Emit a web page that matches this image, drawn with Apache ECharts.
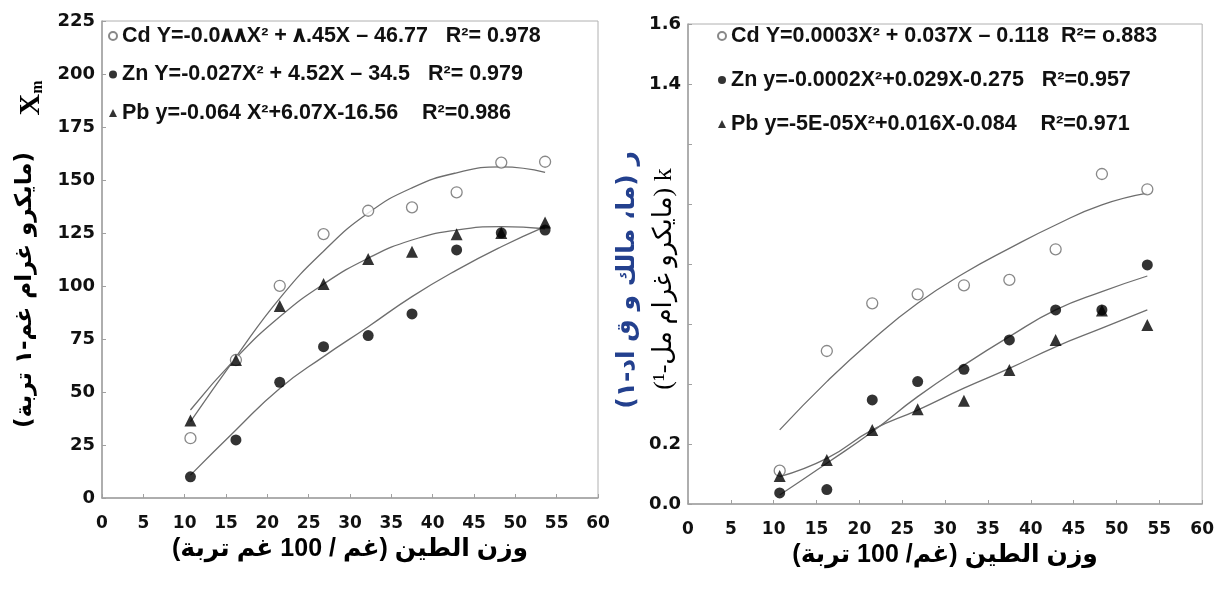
<!DOCTYPE html>
<html>
<head>
<meta charset="utf-8">
<script src="https://cdn.jsdelivr.net/npm/echarts@6/dist/echarts.min.js"></script>
<style>
html, body { margin: 0; background: #fff; }
#chart { width: 1217px; height: 590px; }
</style>
</head>
<body>
<div id="chart"></div>
<script>
// clay content (g / 100 g soil), shared by both panels
var clay = [10.7, 16.2, 21.5, 26.8, 32.2, 37.5, 42.9, 48.3, 53.6];
var xTicks = [0, 5, 10, 15, 20, 25, 30, 35, 40, 45, 50, 55, 60];

// left panel: Xm
var xmCd = [28.2, 65.1, 100.1, 124.5, 135.5, 137.1, 144.2, 158.2, 158.6];
var xmZn = [10.0, 27.4, 54.6, 71.4, 76.6, 86.8, 117.0, 125.1, 126.4];
var xmPb = [36.5, 65.1, 90.6, 100.9, 112.7, 116.2, 124.4, 125.0, 129.9];
// fitted curves
var xmCdFit = [36.0, 66.5, 94.2, 116.4, 134.4, 146.3, 153.4, 156.2, 153.6];
var xmZnFit = [10.8, 32.1, 51.7, 66.7, 80.8, 95.0, 107.5, 118.5, 128.0];
var xmPbFit = [41.5, 66.0, 85.5, 100.9, 113.1, 121.7, 126.4, 128.0, 127.0];
var xmTicks = [0, 25, 50, 75, 100, 125, 150, 175, 200, 225];

// right panel: k
var kCd = [0.111, 0.510, 0.669, 0.699, 0.729, 0.747, 0.849, 1.100, 1.049];
var kZn = [0.037, 0.048, 0.347, 0.408, 0.449, 0.547, 0.647, 0.647, 0.797];
var kPb = [0.093, 0.147, 0.247, 0.316, 0.344, 0.447, 0.547, 0.645, 0.597];
var kCdFit = [0.247, 0.408, 0.547, 0.669, 0.769, 0.852, 0.930, 0.997, 1.036];
var kZnFit = [0.030, 0.136, 0.241, 0.358, 0.463, 0.558, 0.647, 0.708, 0.760];
var kPbFit = [0.091, 0.152, 0.247, 0.313, 0.386, 0.452, 0.524, 0.586, 0.647];
var kTicks = [0, 0.2, 0.4, 0.6, 0.8, 1.0, 1.2, 1.4, 1.6];
var kShown = ['0.0', '0.2', '1.4', '1.6'];   // the others are covered by the axis title

// legend texts (LRO keeps the mixed digits in written order)
var LRO = '\u202D', PDF = '\u202C', RLM = '\u200F';
var legLeft = [
    LRO + 'Cd Y=-0.0٨٨X² + ٨.45X – 46.77   R²= 0.978' + PDF,
    LRO + 'Zn Y=-0.027X² + 4.52X – 34.5   R²= 0.979' + PDF,
    LRO + 'Pb y=-0.064 X²+6.07X-16.56    R²=0.986' + PDF
];
var legRight = [
    LRO + 'Cd Y=0.0003X² + 0.037X – 0.118  R²= o.883' + PDF,
    LRO + 'Zn y=-0.0002X²+0.029X-0.275   R²=0.957' + PDF,
    LRO + 'Pb y=-5E-05X²+0.016X-0.084    R²=0.971' + PDF
];

function pairs(ys) {
    return clay.map(function (x, i) { return [x, ys[i]]; });
}

var myChart = echarts.init(document.getElementById('chart'));

var tickFont = '"DejaVu Sans", sans-serif';
var legFont = '"Liberation Sans", "DejaVu Sans", sans-serif';
var arFont = '"DejaVu Sans", sans-serif';

var openDot = { color: '#fff', borderColor: '#6a6a6a', borderWidth: 1.3 };
var fillDot = { color: '#000' };
var fitLine = { color: '#6e6e6e', width: 1.3 };
var axisGrey = { color: '#a0a0a0', width: 1.5 };

function xAxisOf(grid, name, gap) {
    return {
        type: 'value', gridIndex: grid, min: xTicks[0], max: xTicks[xTicks.length - 1], interval: 5,
        axisLine: { show: true, lineStyle: axisGrey },
        axisTick: { show: true, inside: true, length: 4, lineStyle: { color: '#a0a0a0' } },
        splitLine: { show: false },
        axisLabel: { margin: 17, color: '#111', fontFamily: tickFont, fontWeight: 'bold', fontSize: 17 },
        name: name, nameLocation: 'middle', nameGap: gap,
        nameTextStyle: { fontFamily: '"Liberation Sans", ' + arFont, fontWeight: 'bold', fontSize: 25, color: '#000' }
    };
}

function yAxisOf(grid, ticks, step, fmt) {
    return {
        type: 'value', gridIndex: grid, min: ticks[0], max: ticks[ticks.length - 1], interval: step,
        axisLine: { show: true, lineStyle: axisGrey },
        axisTick: { show: true, inside: true, length: 4, lineStyle: { color: '#a0a0a0' } },
        splitLine: { show: false },
        axisLabel: { margin: 7, color: '#111', fontFamily: tickFont, fontWeight: 'bold', fontSize: 18, formatter: fmt }
    };
}

function scatter(name, xi, data, symbol, style) {
    return {
        name: name, type: 'scatter', xAxisIndex: xi, yAxisIndex: xi, data: data,
        symbol: symbol, symbolSize: symbol === 'triangle' ? 12 : 11,
        itemStyle: style, z: 5
    };
}

function fit(xi, data) {
    return {
        type: 'line', xAxisIndex: xi, yAxisIndex: xi, data: data, smooth: true,
        symbol: 'none', lineStyle: fitLine, z: 3, silent: true
    };
}

function legendOf(left, data, gap) {
    return {
        left: left, top: 25, padding: 0, data: data, orient: 'vertical',
        itemWidth: 8, itemHeight: 8, itemGap: gap, selectedMode: false,
        textStyle: { fontFamily: legFont, fontWeight: 'bold', fontSize: 21.5, color: '#111', lineHeight: 22 }
    };
}

function vText(x, y, text, size, weight, color, family) {
    return {
        type: 'text', x: x, y: y, rotation: Math.PI / 2,
        style: {
            text: text, align: 'center', verticalAlign: 'middle',
            fontFamily: family, fontWeight: weight, fontSize: size, fill: color
        }
    };
}

var option = {
    animation: false,
    backgroundColor: '#fff',
    grid: [
        { left: 102, top: 21, width: 496, height: 477, show: true, borderColor: '#b0b0b0', borderWidth: 1 },
        { left: 688, top: 24, width: 518, height: 480, show: true, borderColor: '#b0b0b0', borderWidth: 1 }
    ],
    xAxis: [
        xAxisOf(0, RLM + 'وزن الطين (غم / 100 غم تربة)' + RLM, 37),
        xAxisOf(1, RLM + 'وزن الطين (غم/ 100 تربة)' + RLM, 36)
    ],
    yAxis: [
        yAxisOf(0, xmTicks, 25),
        yAxisOf(1, kTicks, 0.2, function (v) {
            var s = v.toFixed(1);
            return kShown.indexOf(s) >= 0 ? s : '';
        })
    ],
    legend: [
        legendOf(108, legLeft, 16.5),
        legendOf(717, legRight, 22)
    ],
    graphic: [
        {
            type: 'text', x: 31, y: 98, rotation: Math.PI / 2,
            style: {
                text: '{a|X}{b|m}', align: 'center', verticalAlign: 'middle',
                rich: {
                    a: { fontFamily: '"Liberation Serif", serif', fontWeight: 'bold', fontSize: 30, fill: '#000' },
                    b: { fontFamily: '"Liberation Serif", serif', fontWeight: 'bold', fontSize: 16, fill: '#000', verticalAlign: 'bottom', padding: [14, 0, 0, 0] }
                }
            }
        },
        vText(25, 290, RLM + '(مايكرو غرام غم-١ تربة)' + RLM, 23, 'bold', '#000', arFont),
        vText(627, 280, '\u202Bر (ما، مالك و ق اد-١)\u202C', 25, 'bold', '#23408e', arFont),
        vText(664, 279, '\u202Bk (مايكرو غرام مل-¹)\u202C', 26, 'normal', '#000', '"Liberation Serif", ' + arFont)
    ],
    series: [
        fit(0, pairs(xmCdFit)),
        fit(0, pairs(xmZnFit)),
        fit(0, pairs(xmPbFit)),
        scatter(legLeft[0], 0, pairs(xmCd), 'circle', openDot),
        scatter(legLeft[1], 0, pairs(xmZn), 'circle', fillDot),
        scatter(legLeft[2], 0, pairs(xmPb), 'triangle', fillDot),
        fit(1, pairs(kCdFit)),
        fit(1, pairs(kZnFit)),
        fit(1, pairs(kPbFit)),
        scatter(legRight[0], 1, pairs(kCd), 'circle', openDot),
        scatter(legRight[1], 1, pairs(kZn), 'circle', fillDot),
        scatter(legRight[2], 1, pairs(kPb), 'triangle', fillDot)
    ]
};

myChart.setOption(option);
</script>
</body>
</html>
